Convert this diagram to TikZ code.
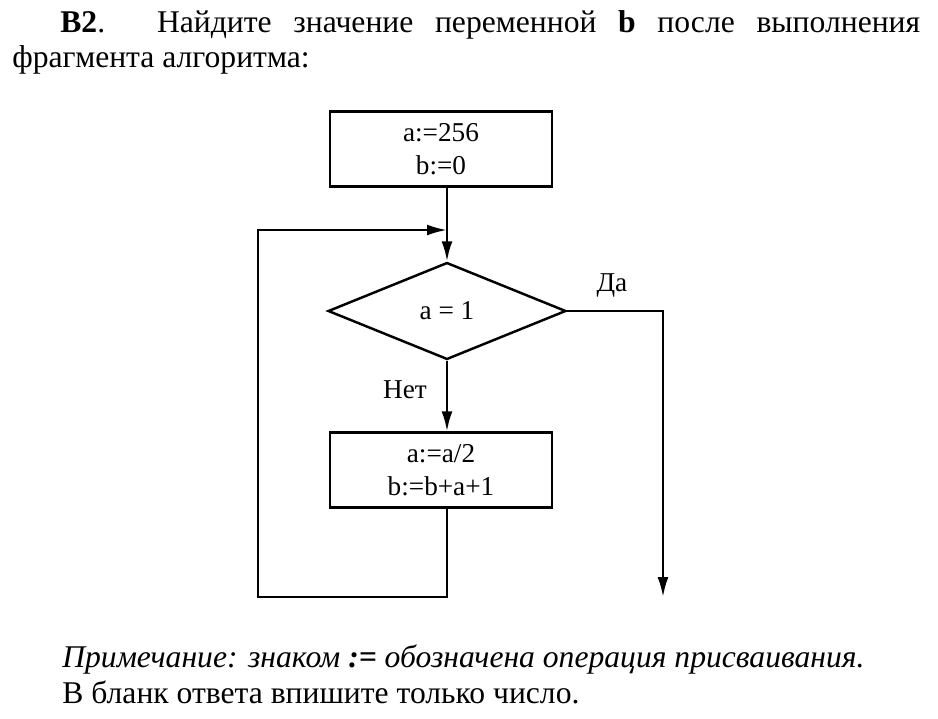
\documentclass[tikz,border=0pt]{standalone}
\usepackage{fontspec}
\setmainfont{Liberation Serif}
\usetikzlibrary{shapes.geometric,arrows.meta}
\tikzset{
  blk/.style={draw, line width=1.4pt, minimum width=4.45cm, minimum height=1.5cm, align=center, font=\fontsize{15.5}{19}\selectfont},
  cond/.style={draw, line width=1.4pt, diamond, aspect=2.45, minimum width=4.76cm, minimum height=1.94cm, inner sep=0pt, font=\fontsize{15.5}{17}\selectfont},
  flow/.style={line width=1.4pt, -{Latex[length=4mm,width=2.2mm]}},
  lbl/.style={font=\fontsize{15.5}{17}\selectfont}
}
\begin{document}
\begin{tikzpicture}[x=0.02cm,y=-0.02cm]
  \useasboundingbox (0,0) rectangle (938,718);
  % header
  \node[anchor=west, font=\fontsize{18}{20}\selectfont, inner sep=0pt] (head) at (60,25) {\makebox[17.2cm][s]{\textbf{B2}. Найдите значение переменной \textbf{b} после выполнения}};
  \node[anchor=west, font=\fontsize{18}{20}\selectfont, inner sep=0pt] (head2) at (12,60) {фрагмента алгоритма:};
  % blocks
  \node[blk] (init) at (441,149) {a:=256\\b:=0};
  \node[cond] (test) at (447,311) {a = 1};
  \node[blk] (body) at (441,470) {a:=a/2\\b:=b+a+1};
  \coordinate (join) at (447,230);
  \coordinate (bl) at (447,597);
  \coordinate (bll) at (258,597);
  \coordinate (tll) at (258,230);
  \coordinate (yr) at (663,311);
  \coordinate (yend) at (663,597);
  % connectors
  \draw[line width=1.4pt] (init.south -| join) -- (join);
  \draw[flow] (join) -- (test.north);
  \draw[flow] (test.south) -- (body.north -| test.south);
  \draw[flow] (body.south -| bl) -- (bl) -- (bll) -- (tll) -- (join);
  \draw[flow] (test.east) -- (yr) -- (yend);
  \node[lbl] (yes) at (612,285) {Да};
  \node[lbl] (no) at (405,390) {Нет};
  % note
  \node[anchor=west, font=\fontsize{18}{18}\selectfont\itshape, inner sep=0pt] (note) at (62,660) {Примечание: знаком \textbf{:=} обозначена операция присваивания.};
  \node[anchor=west, font=\fontsize{18}{18}\selectfont, inner sep=0pt] (note2) at (62,692) {В бланк ответа впишите только число.};
\end{tikzpicture}
\end{document}
